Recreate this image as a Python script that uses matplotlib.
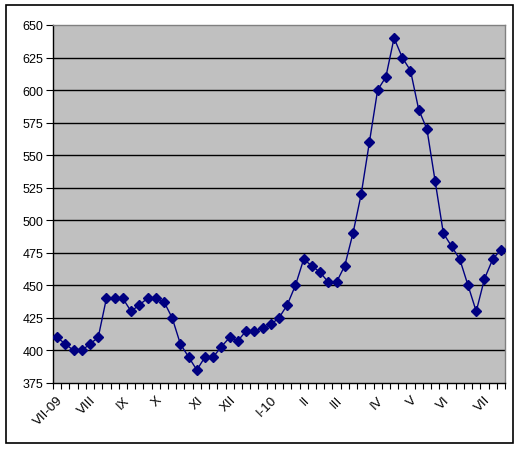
import matplotlib
matplotlib.use("Agg")
import matplotlib.pyplot as plt
from matplotlib.patches import Rectangle

values = [410, 405, 400, 400, 405, 410, 440, 440, 440, 430,
          435, 440, 440, 437.5, 425, 405, 395, 385, 395, 395,
          403, 410, 407.5, 415, 415, 417, 420, 425, 435, 450,
          470, 465, 460, 452.5, 452.5, 465, 490, 520, 560, 600,
          610, 640, 625, 615, 585, 570, 530, 490, 480, 470,
          450, 430, 455, 470, 477.5]
month_labels = ["VII-09", "VIII", "IX", "X", "XI", "XII", "I-10",
                "II", "III", "IV", "V", "VI", "VII"]
month_index = [0, 4, 8, 12, 17, 21, 26, 30, 34, 39, 43, 47, 52]
y_ticks = list(range(375, 651, 25))

plt.rcParams['font.family'] = ['Liberation Sans', 'DejaVu Sans']

fig = plt.figure(figsize=(5.21, 4.52), dpi=100)
fig.patch.set_facecolor('white')
W, H = 521, 452
fig.patches.append(Rectangle((6 / W, 1 - 444 / H), (513 - 6) / W, (444 - 6) / H,
                             transform=fig.transFigure, fill=False,
                             edgecolor='black', linewidth=1.2))

ax = fig.add_axes([53 / W, 1 - 384 / H, (505 - 53) / W, (384 - 26) / H])
ax.set_facecolor('#C0C0C0')

x = list(range(len(values)))
ax.plot(x, values, color='#000080', linewidth=1.0, marker='D',
        markersize=5, markerfacecolor='#000080', markeredgecolor='#000080',
        zorder=3)

ax.set_xlim(-0.5, len(values) - 0.5)
ax.set_ylim(375, 650)
ax.set_yticks(y_ticks)
ax.set_yticklabels([str(v) for v in y_ticks], fontsize=9)
for v in y_ticks[1:-1]:
    ax.axhline(v, color='black', linewidth=1.0, zorder=1)

ax.set_xticks([i - 0.5 for i in range(len(values) + 1)], minor=False)
ax.set_xticklabels([])
ax.tick_params(axis='x', which='major', direction='out', length=4, width=0.8, color='black')
ax.tick_params(axis='y', direction='out', length=5, width=0.8, color='black', pad=2)

for lab, idx in zip(month_labels, month_index):
    ax.text(idx, 367, lab, rotation=45, ha='right', va='top',
            rotation_mode='anchor', fontsize=9.5, transform=ax.transData,
            clip_on=False)

for s in ['left', 'bottom']:
    ax.spines[s].set_color('black')
    ax.spines[s].set_linewidth(1.0)
for s in ['top', 'right']:
    ax.spines[s].set_color('#808080')
    ax.spines[s].set_linewidth(1.0)

fig.savefig('out.png', dpi=100, facecolor='white')
